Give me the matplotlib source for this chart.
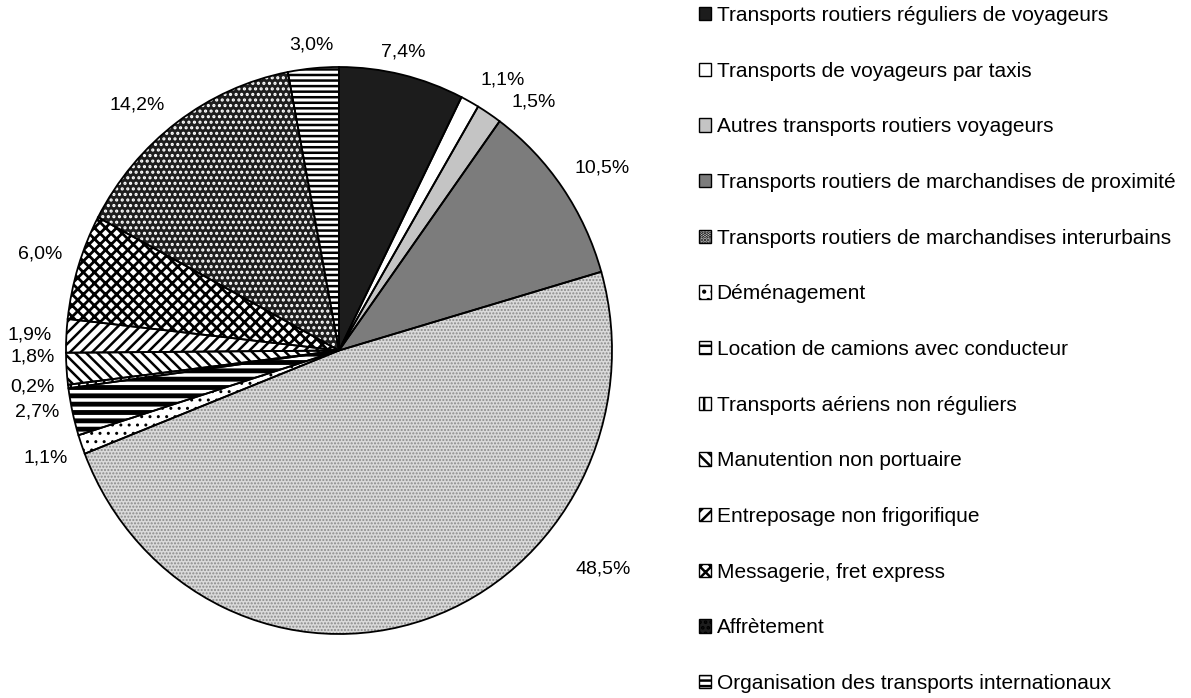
import numpy as np
import matplotlib
matplotlib.use('Agg')
import matplotlib.pyplot as plt
from matplotlib.patches import Rectangle

plt.rcParams['font.family'] = ['Liberation Sans', 'DejaVu Sans']

categories = ['Transports routiers réguliers de voyageurs',
              'Transports de voyageurs par taxis',
              'Autres transports routiers voyageurs',
              'Transports routiers de marchandises de proximité',
              'Transports routiers de marchandises interurbains',
              'Déménagement',
              'Location de camions avec conducteur',
              'Transports aériens non réguliers',
              'Manutention non portuaire',
              'Entreposage non frigorifique',
              'Messagerie, fret express',
              'Affrètement',
              'Organisation des transports internationaux']
shares = [7.4, 1.1, 1.5, 10.5, 48.5, 1.1, 2.7, 0.2, 1.8, 1.9, 6.0, 14.2, 3.0]
pct_labels = [('%.1f%%' % v).replace('.', ',') for v in shares]

# styles: face colour, hatch, hatch colour, hatch line width
faces = ['#1c1c1c', 'white', '#c4c4c4', '#7c7c7c', '#dadada', 'white', 'white',
         'white', 'white', 'white', 'white', '#1e1e1e', 'white']
hatches = [None, None, None, None, '.....', '..', '--', '||', '\\\\\\', '///', 'xxx', '...', '---']
hcolors = ['k', 'k', 'k', 'k', '#8a8a8a', 'k', 'k', 'k', 'k', 'k', 'k', 'white', 'k']
hwidths = [1, 1, 1, 1, 1.0, 1.0, 3.5, 1.8, 1.8, 1.8, 2.0, 1.5, 1.8]

# label positions in pixels (x, y from top)
label_px = [(403, 52), (503, 80), (534, 102), (602, 168), (603, 569), (46, 458),
            (37, 412), (32, 387), (33, 357), (30, 335), (40, 254), (137, 105), (311, 45)]

W, H = 1191, 698
fig = plt.figure(figsize=(W / 100, H / 100), dpi=100)
ax = fig.add_axes([66 / W, 1 - 634 / H, 546 / W, 567 / H])

plt.rcParams['hatch.linewidth'] = 1.8
wedges, _ = ax.pie(shares, startangle=90, counterclock=False, radius=1,
                   colors=faces, wedgeprops=dict(linewidth=0))
for w, h, hc, hw in zip(wedges, hatches, hcolors, hwidths):
    w.set_edgecolor(hc)
    if h:
        w.set_hatch(h)
    if hasattr(w, 'set_hatch_linewidth'):
        w.set_hatch_linewidth(hw)

outl, _ = ax.pie(shares, startangle=90, counterclock=False, radius=1,
                 wedgeprops=dict(fill=False, edgecolor='black', linewidth=1.3))
ax.set_aspect('auto')
ax.set_xlim(-1, 1)
ax.set_ylim(-1, 1)

for txt, (px, py) in zip(pct_labels, label_px):
    fig.text(px / W, 1 - py / H, txt, ha='center', va='center', fontsize=14)

handles = [Rectangle((0, 0), 1, 1, facecolor=f, hatch=h, edgecolor='black', linewidth=1)
           for f, h in zip(faces, hatches)]
fig.legend(handles, categories, loc='upper left', bbox_to_anchor=(699 / W, 1 - 6 / H),
           frameon=False, fontsize=15, handlelength=0.6, handleheight=0.6,
           handletextpad=0.25, labelspacing=1.76, borderpad=0, borderaxespad=0)

fig.savefig('out.png', dpi=100)
